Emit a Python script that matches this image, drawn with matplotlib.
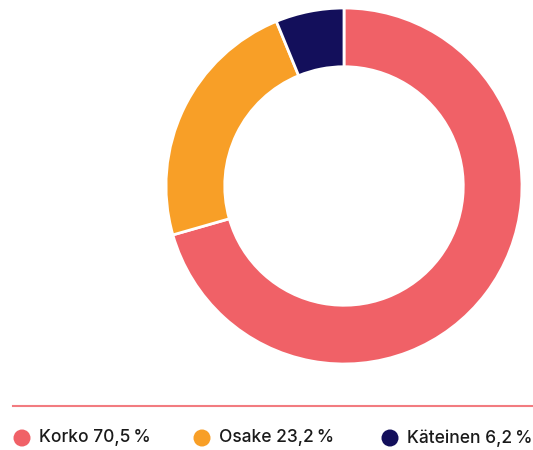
import matplotlib.pyplot as plt

labels = ["Korko", "Osake", "Käteinen"]
values = [70.5, 23.2, 6.2]
colors = ["#F06167", "#F89F27", "#130F5B"]

W, H = 533, 450
fig = plt.figure(figsize=(W / 100, H / 100), dpi=100)
plt.rcParams['font.family'] = ['Inter', 'DejaVu Sans']

# donut
cx, cy, r = 344, 186, 178
ax = fig.add_axes([(cx - r) / W, (H - cy - r) / H, 2 * r / W, 2 * r / H])
ax.pie(values, colors=colors, startangle=90, counterclock=False,
       wedgeprops=dict(width=0.33, edgecolor="white", linewidth=2))
ax.set_xlim(-1, 1)
ax.set_ylim(-1, 1)
ax.set_aspect("equal")
ax.axis("off")

# separator line and legend
lax = fig.add_axes([0, 0, 1, 1])
lax.set_xlim(0, W)
lax.set_ylim(H, 0)
lax.axis("off")
lax.plot([13, W], [406, 406], color="#F27B80", linewidth=1.5)

xs = [22, 202, 390]
for x, lab, v, c in zip(xs, labels, values, colors):
    lax.scatter([x], [438], s=150, color=c, edgecolors="none")
    lax.text(x + 17, 438, "{} {}\u2009%".format(lab, str(v).replace(".", ",")),
             fontsize=12.5, fontweight="medium", va="center", ha="left",
             color="#1a1a1a")

fig.savefig("out.png", dpi=100)
